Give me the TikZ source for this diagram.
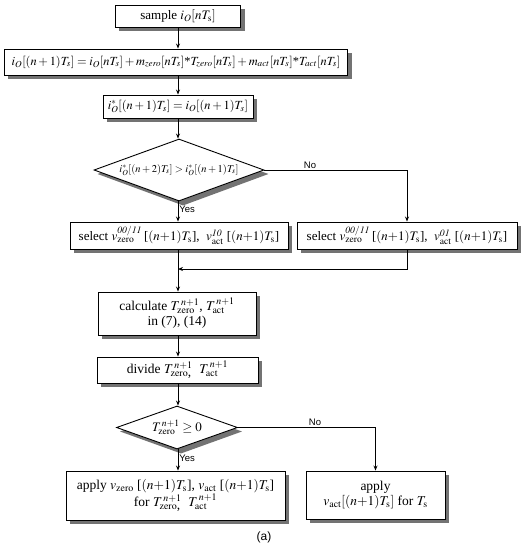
\documentclass[tikz,border=0pt]{standalone}
\usepackage{mathptmx}
\usepackage{fontspec}
\setmainfont{Liberation Serif}
\setsansfont{Liberation Sans}
\usepackage{tikz}
\usetikzlibrary{positioning,shapes.geometric,arrows.meta,backgrounds,calc}
\definecolor{shadowgray}{RGB}{115,115,115}
\newcommand{\Ts}{T_{\mathrm{s}}}
\newcommand{\zr}{\mathrm{zero}}
\newcommand{\ac}{\mathrm{act}}

\begin{document}
\begin{tikzpicture}[x=1pt,y=-1pt,
    box/.style={rectangle,draw,line width=0.9pt,fill=white,inner sep=1pt,align=center,
      font=\fontsize{13.5}{15.5}\selectfont},
    decision/.style={diamond,draw,line width=0.9pt,fill=white,inner sep=0pt},
    flow/.style={-{Stealth[length=5pt,width=4pt]},line width=0.9pt},
    answer/.style={font=\sffamily\fontsize{9.5}{11}\selectfont,inner sep=1pt}]
  \useasboundingbox (0,0) rectangle (530,550);
  \node[box,minimum width=125,minimum height=22,font=\fontsize{13}{15}\selectfont] (smp) at (178,16) {sample $i_O[n\Ts]$};
  \node[box,minimum width=343,minimum height=26,font=\fontsize{12.4}{14}\selectfont] (pred) at (176,62)
    {$i_O[(n+1)T_s]=i_O[nT_s]+m_{zero}[nT_s]\mbox{*}T_{zero}[nT_s]+m_{act}[nT_s]\mbox{*}T_{act}[nT_s]$};
  \node[box,minimum width=150,minimum height=23,font=\fontsize{12.4}{14}\selectfont] (ref) at (178,106.5)
    {$i^*_O[(n+1)T_s]=i_O[(n+1)T_s]$};
  \node[decision,shape aspect=2.74,minimum width=170,minimum height=62,font=\fontsize{10.5}{12}\selectfont] (cmp) at (179,170)
    {$i^*_O[(n+2)T_s]>i^*_O[(n+1)T_s]$};
  \node[box,minimum width=218,minimum height=27,font=\fontsize{13}{15}\selectfont] (selA) at (179,235.5)
    {select $v^{\mathit{00/11}}_{\zr}$\,[$(n{+}1)\Ts$],\ \ $v^{\mathit{10}}_{\ac}$\ [$(n{+}1)\Ts$]};
  \node[box,minimum width=220,minimum height=27,font=\fontsize{13}{15}\selectfont] (selB) at (407,235.5)
    {select $v^{\mathit{00/11}}_{\zr}$\,[$(n{+}1)\Ts$],\ \ $v^{\mathit{01}}_{\ac}$\ [$(n{+}1)\Ts$]};
  \coordinate (mrg) at (178,269);
  \node[box,minimum width=158,minimum height=43] (calc) at (177,313.5)
    {calculate $T^{\,n+1}_{\zr}$, $T^{\,n+1}_{\ac}$\\ in (7), (14)};
  \node[box,minimum width=161,minimum height=26] (div) at (177.5,370)
    {divide $T^{\,n+1}_{\zr\mbox{,}}$\ \ $T^{\,n+1}_{\ac}$};
  \node[decision,shape aspect=2.8,minimum width=121,minimum height=43,font=\fontsize{13}{15}\selectfont] (chk) at (177,427.5)
    {$T^{\,n+1}_{\zr}\geq 0$};
  \node[box,minimum width=219,minimum height=49] (appA) at (175.5,495.5)
    {apply $v_{\zr}$ [$(n{+}1)\Ts$],\ $v_{\ac}$ [$(n{+}1)\Ts$]\\ for $T^{\,n+1}_{\zr\mbox{,}}$\ \ $T^{\,n+1}_{\ac}$};
  \node[box,minimum width=139,minimum height=48] (appB) at (375.5,495)
    {apply\\ $v_{\ac}[(n{+}1)\Ts]$ for $\Ts$};
  \node[font=\sffamily\fontsize{12}{14}\selectfont] (cap) at (264,537) {(a)};
  \begin{scope}[on background layer]
    \foreach \nd in {smp,pred,ref,selA,selB,calc,div,appA,appB}
      \fill[shadowgray] ($(\nd.south west)+(4,4)$) rectangle ($(\nd.north east)+(4,4)$);
    \foreach \nd in {cmp,chk}
      \fill[shadowgray] ($(\nd.north)+(4,4)$) -- ($(\nd.east)+(4,4)$)
        -- ($(\nd.south)+(4,4)$) -- ($(\nd.west)+(4,4)$) -- cycle;
  \end{scope}
  \draw[flow] (smp.south) -- (smp.south |- pred.north);
  \draw[flow] (smp.south |- pred.south) -- (smp.south |- ref.north);
  \draw[flow] (ref.south) -- (ref.south |- cmp.north);
  \draw[flow] (ref.south |- cmp.south) -- node[answer,pos=0.4,anchor=west] {Yes} (ref.south |- selA.north);
  \draw[flow] (cmp.east) -| node[answer,pos=0.16,anchor=south] {No} (selB.north);
  \draw[flow] (ref.south |- selA.south) -- (ref.south |- calc.north);
  \draw[flow] (selB.south) |- (mrg);
  \draw[flow] (ref.south |- calc.south) -- (ref.south |- div.north);
  \draw[flow] (ref.south |- div.south) -- (ref.south |- chk.north);
  \draw[flow] (ref.south |- chk.south) -- node[answer,pos=0.4,anchor=west] {Yes} (ref.south |- appA.north);
  \draw[flow] (chk.east) -| node[answer,pos=0.28,anchor=south] {No} (appB.north);
\end{tikzpicture}
\end{document}
